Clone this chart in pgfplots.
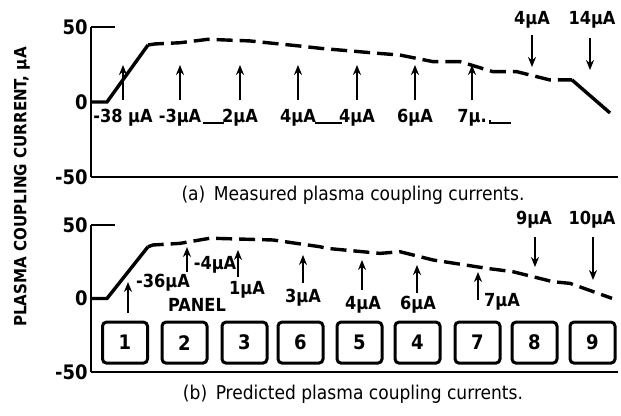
\documentclass[border=0pt]{standalone}
\usepackage{fontspec}
\setmainfont{DejaVu Sans Condensed}
\usepackage{pgfplots}
\pgfplotsset{compat=1.18}
\usetikzlibrary{arrows.meta}
\tikzset{
  up/.style={-{Stealth[length=5pt,width=4pt]}, line width=1.1pt},
  solidc/.style={black, line width=1.7pt},
  dashc/.style={black, line width=1.7pt, dash pattern=on 8pt off 3.5pt},
  pbox/.style={draw, line width=1.5pt, rounded corners=2pt, minimum width=22.5pt, minimum height=20.5pt, font=\bfseries\fontsize{10}{10}\selectfont}
}
\pgfplotsset{common/.style={
  x=0.5pt, xmin=91, xmax=618, ymin=-50, ymax=50,
  axis x line*=bottom, axis y line*=left,
  axis line style={line width=1.2pt, -},
  xtick=\empty, ytick={-50,0,50}, yticklabels={-50,0,50},
  major tick length=0pt,
  yticklabel style={font=\bfseries\fontsize{10}{10}\selectfont, inner xsep=1.5pt},
  clip=false, anchor=south west}}
\begin{document}
\begin{tikzpicture}[font=\bfseries\fontsize{9}{10}\selectfont]
\useasboundingbox (0,0) rectangle (310.5pt,208pt);
% vertical axis title
\node[rotate=90, font=\bfseries\fontsize{8.4}{10}\selectfont] at (11pt,114.5pt) {PLASMA COUPLING CURRENT, µA};
% ---------- (a) measured ----------
\begin{axis}[common, y=0.75pt, at={(45.5pt,119.5pt)}]
\addplot[solidc] coordinates {(91,0)(107,0)(148,38)};
\addplot[dashc] coordinates {(148,38)(155,38.7)(180,39.5)(208,41.8)(250,40.7)(300,37.3)(320,35.8)(377,32.5)(400,31.3)(433,26.9)(460,26.9)(493,20.2)(517,20.2)(550,14.7)(572,14.7)};
\addplot[solidc] coordinates {(572,14.7)(610,-7.3)};
\draw[line width=1.2pt] (axis cs:91,50) -- (axis cs:115,50);
\draw[up] (axis cs:123,1.3) -- (axis cs:123,24.7);
\draw[up] (axis cs:180,1.3) -- (axis cs:180,24.7);
\draw[up] (axis cs:240,1.3) -- (axis cs:240,24.7);
\draw[up] (axis cs:298,1.3) -- (axis cs:298,24.7);
\draw[up] (axis cs:357,1.3) -- (axis cs:357,24.7);
\draw[up] (axis cs:415,1.3) -- (axis cs:415,24.7);
\draw[up] (axis cs:472,1.3) -- (axis cs:472,24.7);
\node at (axis cs:123,-10.7) {-38 µA};
\node at (axis cs:180,-10.7) {-3µA};
\node at (axis cs:240,-10.7) {2µA};
\node at (axis cs:298,-10.7) {4µA};
\node at (axis cs:357,-10.7) {4µA};
\node at (axis cs:415,-10.7) {6µA};
\node at (axis cs:472,-10.7) {7µ.};
\draw[line width=0.6pt] (axis cs:203,-14) -- (axis cs:224,-14);
\draw[line width=0.8pt] (axis cs:315,-14) -- (axis cs:342,-14);
\draw[line width=0.8pt] (axis cs:490,-12) -- (axis cs:490,-14) -- (axis cs:511,-14);
\draw[up] (axis cs:532,44.7) -- (axis cs:532,23.3);
\draw[up] (axis cs:590,42.7) -- (axis cs:590,21.3);
\node at (axis cs:532,54.7) {4µA};
\node at (axis cs:592,54.7) {14µA};
\node[font=\mdseries\fontsize{9.5}{10}\selectfont] at (axis cs:353,-62) {(a)\, Measured plasma coupling currents.};
\end{axis}
% ---------- (b) predicted ----------
\begin{axis}[common, y=0.735pt, at={(45.5pt,22pt)}]
\addplot[solidc] coordinates {(91,0)(107,0)(148,35.2)};
\addplot[dashc] coordinates {(148,35.2)(153,36.4)(180,37.5)(210,41)(273,39.8)(320,35.2)(327,34.1)(380,30.7)(400,31.8)(433,26.2)(487,20.5)(513,18.2)(553,11.4)(570,10.3)(612,0.1)};
\draw[line width=1.2pt] (axis cs:91,50) -- (axis cs:115,50);
\draw[up] (axis cs:128,-9.9) -- (axis cs:128,11.2);
\draw[up] (axis cs:187,18) -- (axis cs:187,35);
\draw[up] (axis cs:238,14.6) -- (axis cs:238,33);
\draw[up] (axis cs:303,10.5) -- (axis cs:303,29.6);
\draw[up] (axis cs:362,5.8) -- (axis cs:362,26.2);
\draw[up] (axis cs:417,3.7) -- (axis cs:417,22.8);
\draw[up] (axis cs:478,-1) -- (axis cs:478,18);
\draw[up] (axis cs:535,41.8) -- (axis cs:535,21.4);
\draw[up] (axis cs:593,41.8) -- (axis cs:593,12.6);
\node at (axis cs:163,10.5) {-36µA};
\node at (axis cs:215,22.8) {-4µA};
\node at (axis cs:247,5.8) {1µA};
\node at (axis cs:197,-4.4) {PANEL};
\node at (axis cs:303,0.3) {3µA};
\node at (axis cs:363,-4.4) {4µA};
\node at (axis cs:418,-4.4) {6µA};
\node at (axis cs:502,-2.4) {7µA};
\node at (axis cs:534,53.4) {9µA};
\node at (axis cs:592,53.4) {10µA};
\node[pbox] at (axis cs:125,-30) {1};
\node[pbox] at (axis cs:184.5,-30) {2};
\node[pbox] at (axis cs:244.5,-30) {3};
\node[pbox] at (axis cs:300.5,-30) {6};
\node[pbox] at (axis cs:359.5,-30) {5};
\node[pbox] at (axis cs:417.5,-30) {4};
\node[pbox] at (axis cs:477.5,-30) {7};
\node[pbox] at (axis cs:534.5,-30) {8};
\node[pbox] at (axis cs:592.5,-30) {9};
\node[font=\mdseries\fontsize{9.5}{10}\selectfont] at (axis cs:353,-65) {(b)\, Predicted plasma coupling currents.};
\end{axis}
\end{tikzpicture}
\end{document}
